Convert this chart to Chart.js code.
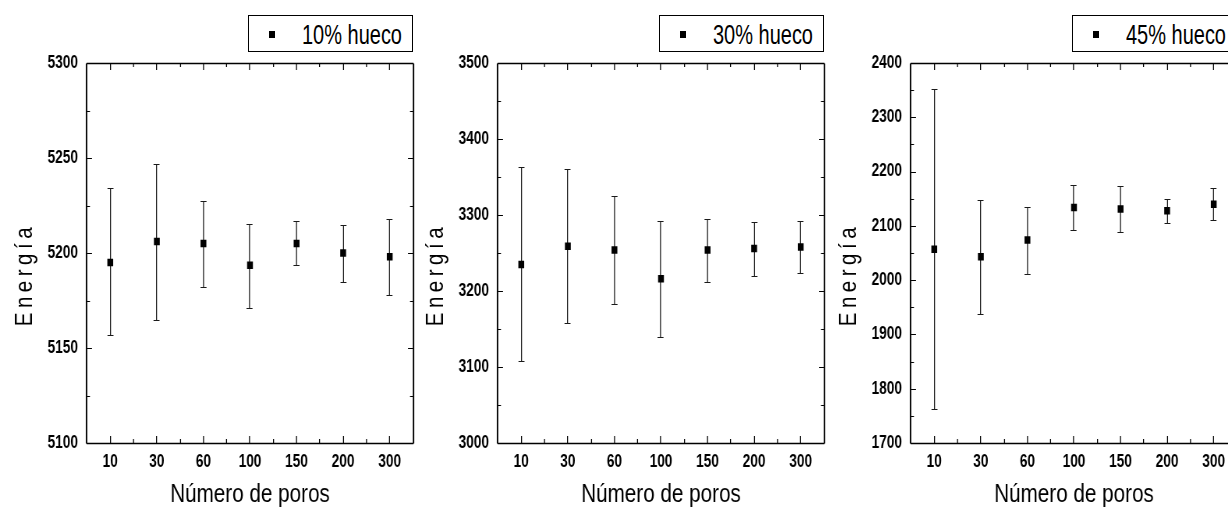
<!DOCTYPE html>
<html>
<head>
<meta charset="utf-8">
<script src="https://cdn.jsdelivr.net/npm/chart.js@4"></script>
<style>
  html, body { margin: 0; padding: 0; background: #fff; overflow: hidden; }
  body { width: 1228px; height: 510px; position: relative; }
  .panel { position: absolute; top: 0; width: 420px; height: 510px; }
  /* the original figure uses a condensed face: squeeze the drawing sideways */
  .panel canvas { position: absolute; left: 0; top: 0; transform: scaleX(0.78); transform-origin: 0 0; }
  .legend {
    position: absolute; left: 248px; top: 15px; width: 163px; height: 35px;
    border: 1px solid #000; background: #fff;
    font-family: 'Liberation Sans', Arial, sans-serif;
    font-size: 27px; color: #000; white-space: nowrap;
  }
  .legend .mark { position: absolute; left: 20px; top: 15px; width: 6px; height: 7px; background: #000; }
  .legend .txt { position: absolute; left: 53px; top: 4px; line-height: 30px; transform: scaleX(0.74); transform-origin: 0 0; }
</style>
</head>
<body>

<div class="panel" style="left:0px"><canvas id="c1" width="538" height="510"></canvas><div class="legend"><span class="mark"></span><span class="txt">10% hueco</span></div></div>
<div class="panel" style="left:411px"><canvas id="c2" width="538" height="510"></canvas><div class="legend"><span class="mark"></span><span class="txt">30% hueco</span></div></div>
<div class="panel" style="left:824px"><canvas id="c3" width="538" height="510"></canvas><div class="legend"><span class="mark"></span><span class="txt">45% hueco</span></div></div>

<script>
// number of pores (x categories)
const categories = ['10', '30', '60', '100', '150', '200', '300'];

// 10% void
const energy10 = [5195, 5206, 5205, 5193.5, 5205, 5200, 5198];
const high10 = [5234, 5247, 5227.5, 5215.5, 5217, 5214.5, 5218];
const low10 = [5157, 5165, 5182, 5171, 5193.5, 5185, 5178];

// 30% void
const energy30 = [3235, 3259, 3254, 3216, 3254, 3256, 3258];
const high30 = [3363, 3360, 3325, 3292, 3295, 3291, 3292];
const low30 = [3108, 3158, 3183, 3139, 3212, 3220, 3224];

// 45% void
const energy45 = [2057, 2043, 2074, 2134, 2131, 2128, 2140];
const high45 = [2352, 2148, 2135, 2175, 2174, 2150, 2169];
const low45 = [1763, 1938, 2011, 2092, 2089, 2106, 2111];

// y axis ranges: min, max, step
const yRange10 = [5100, 5300, 50];
const yRange30 = [3000, 3500, 100];
const yRange45 = [1700, 2400, 100];

const FONT = "'Liberation Sans', Arial, sans-serif";
const SQ = 0.78; // horizontal squeeze applied to the canvases (see css)

// put a vertical line on a whole screen pixel after the squeeze
function snapX(x) {
  return (Math.floor(x * SQ) + 0.5) / SQ;
}

// error bars drawn under the points
const errorBars = {
  id: 'errorBars',
  beforeDatasetsDraw(chart) {
    const ctx = chart.ctx;
    const xs = chart.scales.x, ys = chart.scales.y;
    const hi = chart.options.plugins.errorBars.high;
    const lo = chart.options.plugins.errorBars.low;
    const cap = 3 / SQ;
    ctx.save();
    ctx.strokeStyle = '#1a1a1a';
    hi.forEach((h, i) => {
      const x = snapX(xs.getPixelForValue(i));
      const yt = Math.round(ys.getPixelForValue(h)) + 0.5;
      const yb = Math.round(ys.getPixelForValue(lo[i])) + 0.5;
      ctx.lineWidth = 1 / SQ;
      ctx.beginPath();
      ctx.moveTo(x, yt); ctx.lineTo(x, yb);
      ctx.stroke();
      ctx.lineWidth = 1;
      ctx.beginPath();
      ctx.moveTo(x - cap, yt); ctx.lineTo(x + cap, yt);
      ctx.moveTo(x - cap, yb); ctx.lineTo(x + cap, yb);
      ctx.stroke();
    });
    ctx.restore();
  }
};

// box frame with inward ticks on all four sides
const frame = {
  id: 'frame',
  afterDatasetsDraw(chart) {
    const ctx = chart.ctx;
    const a = chart.chartArea;
    const xs = chart.scales.x, ys = chart.scales.y;
    ctx.save();
    ctx.strokeStyle = '#000';

    // x ticks: major at categories, minor between
    ctx.lineWidth = 1 / SQ;
    ctx.beginPath();
    for (let i = 0; i < categories.length; i++) {
      const x = snapX(xs.getPixelForValue(i));
      ctx.moveTo(x, a.bottom); ctx.lineTo(x, a.bottom - 7);
      ctx.moveTo(x, a.top); ctx.lineTo(x, a.top + 7);
      if (i < categories.length - 1) {
        const m = snapX((xs.getPixelForValue(i) + xs.getPixelForValue(i + 1)) / 2);
        ctx.moveTo(m, a.bottom); ctx.lineTo(m, a.bottom - 4);
        ctx.moveTo(m, a.top); ctx.lineTo(m, a.top + 4);
      }
    }
    ctx.stroke();

    // y ticks
    const t = ys.ticks;
    const major = 5 / SQ, minor = 3 / SQ;
    ctx.lineWidth = 1;
    ctx.beginPath();
    for (let i = 0; i < t.length; i++) {
      const y = Math.round(ys.getPixelForValue(t[i].value)) + 0.5;
      ctx.moveTo(a.left, y); ctx.lineTo(a.left + major, y);
      ctx.moveTo(a.right, y); ctx.lineTo(a.right - major, y);
      if (i < t.length - 1) {
        const m = Math.round(ys.getPixelForValue((t[i].value + t[i + 1].value) / 2)) + 0.5;
        ctx.moveTo(a.left, m); ctx.lineTo(a.left + minor, m);
        ctx.moveTo(a.right, m); ctx.lineTo(a.right - minor, m);
      }
    }
    ctx.stroke();

    // frame
    const l = snapX(a.left), r = snapX(a.right);
    const top = Math.round(a.top) + 0.5, bot = Math.round(a.bottom) + 0.5;
    ctx.lineWidth = 1.5;
    ctx.beginPath();
    ctx.moveTo(l, top); ctx.lineTo(r, top);
    ctx.moveTo(l, bot); ctx.lineTo(r, bot);
    ctx.stroke();
    ctx.lineWidth = 1.5 / SQ;
    ctx.beginPath();
    ctx.moveTo(l, top); ctx.lineTo(l, bot);
    ctx.moveTo(r, top); ctx.lineTo(r, bot);
    ctx.stroke();
    ctx.restore();
  }
};

// spaced-out rotated y title, as in the original figure
const yTitle = {
  id: 'yTitle',
  afterDraw(chart) {
    const ctx = chart.ctx;
    ctx.save();
    ctx.scale(1 / SQ, 1);          // back to screen pixels sideways
    ctx.translate(25, 277);
    ctx.rotate(-Math.PI / 2);
    ctx.scale(0.82, 1);            // narrow face along the text
    ctx.font = '25px ' + FONT;
    ctx.fillStyle = '#000';
    ctx.letterSpacing = '5.5px';
    ctx.textAlign = 'center';
    ctx.textBaseline = 'middle';
    ctx.fillText('Energía', 3, 0);
    ctx.restore();
  }
};

function makeChart(id, values, high, low, range) {
  const ctx = document.getElementById(id).getContext('2d');
  return new Chart(ctx, {
    type: 'line',
    data: {
      labels: categories,
      datasets: [{
        data: values,
        showLine: false,
        pointStyle: 'rect',
        pointRadius: 5.3,
        pointBackgroundColor: '#000',
        pointBorderColor: '#000',
        pointBorderWidth: 0
      }]
    },
    options: {
      responsive: false,
      animation: false,
      devicePixelRatio: 1,
      layout: { padding: { left: 0, right: 8.5, top: 63, bottom: 0 } },
      plugins: {
        legend: { display: false },
        tooltip: { enabled: false },
        errorBars: { high: high, low: low }
      },
      scales: {
        x: {
          type: 'category',
          offset: true,
          grid: { display: false, drawTicks: false },
          border: { display: false },
          ticks: { color: '#000', padding: 9, font: { family: FONT, size: 17.5, weight: 'bold' } },
          title: {
            display: true, text: 'Número de poros', color: '#000',
            font: { family: FONT, size: 26.5 }, padding: { top: 0, bottom: -1 }
          },
          afterFit: (s) => { s.height = 67; }
        },
        y: {
          min: range[0], max: range[1],
          grid: { display: false, drawTicks: false },
          border: { display: false },
          ticks: {
            stepSize: range[2], color: '#000', padding: 11.5,
            font: { family: FONT, size: 17.5, weight: 'bold' },
            callback: (v) => String(v)
          },
          title: { display: false },
          afterFit: (s) => { s.width = 111.5; }
        }
      }
    },
    plugins: [errorBars, frame, yTitle]
  });
}

makeChart('c1', energy10, high10, low10, yRange10);
makeChart('c2', energy30, high30, low30, yRange30);
makeChart('c3', energy45, high45, low45, yRange45);
</script>
</body>
</html>
